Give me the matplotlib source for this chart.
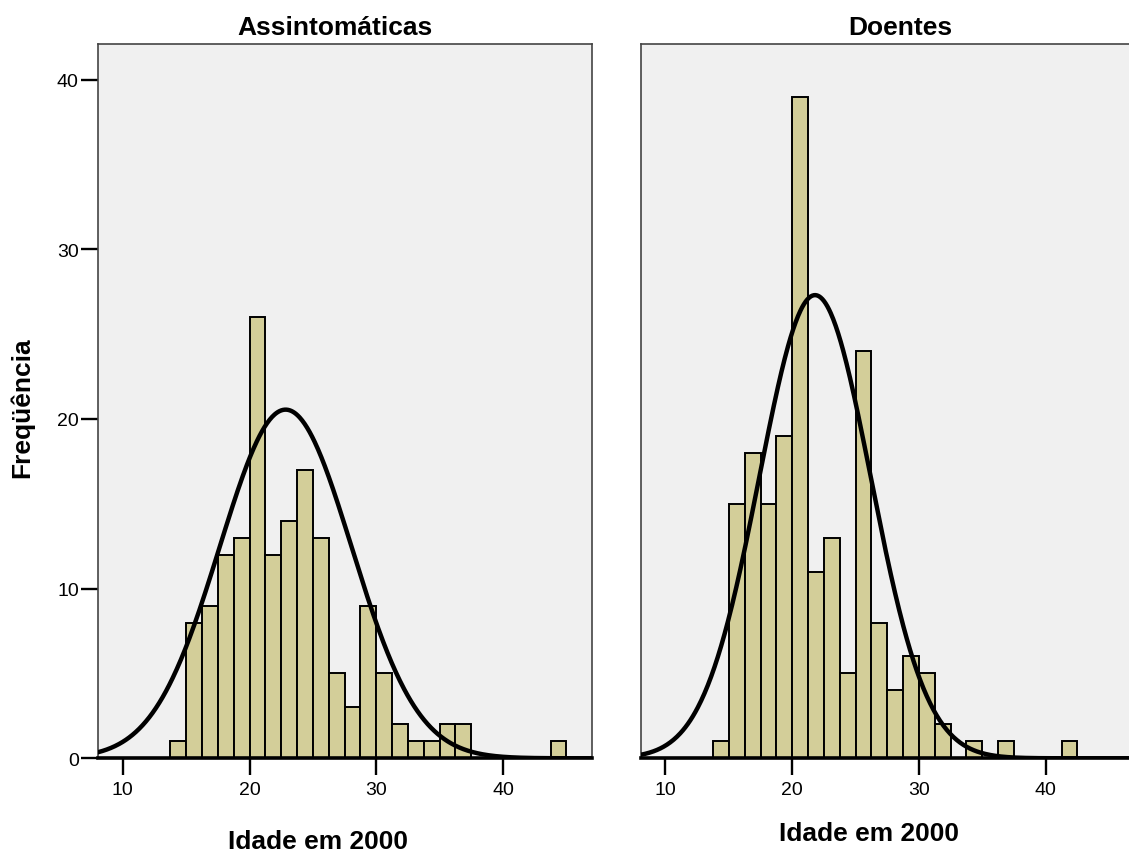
import numpy as np
import matplotlib
matplotlib.use("Agg")
import matplotlib.pyplot as plt

plt.rcParams['font.family'] = ['Liberation Sans', 'DejaVu Sans']

# histogram data (bins of 1.25 years starting at 13.75)
bin_start = 13.75
bin_width = 1.25
counts_assint = [1, 8, 9, 12, 13, 26, 12, 14, 17, 13, 5, 3, 9, 5, 2, 1, 1, 2, 2,
                 0, 0, 0, 0, 0, 1]
counts_doentes = [1, 15, 18, 15, 19, 39, 11, 13, 5, 24, 8, 4, 6, 5, 2, 0, 1, 0, 1,
                  0, 0, 0, 1]

# fitted normal curves (mean, sd, peak height)
curve_assint = (22.85, 5.2, 20.55)
curve_doentes = (21.8, 4.4, 27.3)

titles = ["Assintomáticas", "Doentes"]
xticks = [10, 20, 30, 40]
yticks = [0, 10, 20, 30, 40]

bar_color = "#d3ce99"
bg_color = "#f0f0f0"

W, H = 1129, 853
fig = plt.figure(figsize=(W / 100, H / 100), dpi=100)

ax_w = (591.7 - 98.3) / W
ax_b = (H - 759.3) / H
ax_h = (759.3 - 45) / H
axes = [fig.add_axes([98.3 / W, ax_b, ax_w, ax_h]),
        fig.add_axes([641 / W, ax_b, ax_w, ax_h])]

xs = np.linspace(8.0, 47.5, 600)
for ax, counts, (mu, sd, peak) in zip(axes, [counts_assint, counts_doentes],
                                      [curve_assint, curve_doentes]):
    ax.set_facecolor(bg_color)
    lefts = [bin_start + i * bin_width for i, c in enumerate(counts) if c > 0]
    heights = [c for c in counts if c > 0]
    ax.bar(lefts, heights, width=bin_width, align="edge", color=bar_color,
           edgecolor="black", linewidth=1.4, zorder=2)
    ax.plot(xs, peak * np.exp(-0.5 * ((xs - mu) / sd) ** 2), color="black",
            linewidth=3.2, zorder=3, solid_capstyle="butt")
    ax.set_xlim(8.07, 47.0)
    ax.set_ylim(0, 42.1)
    ax.set_xticks(xticks)
    ax.set_yticks(yticks)
    ax.tick_params(axis="both", direction="out", length=12, width=1.7,
                   labelsize=14, color="black")
    ax.tick_params(axis="x", pad=4)
    ax.tick_params(axis="y", pad=2)
    for side in ["left", "top", "right"]:
        ax.spines[side].set_color("#444444")
        ax.spines[side].set_linewidth(1.2)
    ax.spines["bottom"].set_color("black")
    ax.spines["bottom"].set_linewidth(2.6)
    ax.spines["bottom"].set_zorder(4)

axes[1].tick_params(axis="y", left=False, labelleft=False)

# titles and labels
fig.text(334.5 / W, 1 - 35 / H, titles[0], ha="center", va="baseline",
         fontsize=19, fontweight="bold")
fig.text(900 / W, 1 - 35 / H, titles[1], ha="center", va="baseline",
         fontsize=19, fontweight="bold")
fig.text(318 / W, 1 - 849 / H, "Idade em 2000", ha="center", va="baseline",
         fontsize=19, fontweight="bold")
fig.text(869 / W, 1 - 841 / H, "Idade em 2000", ha="center", va="baseline",
         fontsize=19, fontweight="bold")
fig.text(22 / W, 1 - 408 / H, "Freqüência", ha="center", va="center",
         rotation=90, fontsize=19, fontweight="bold")

fig.savefig("out.png", dpi=100)
